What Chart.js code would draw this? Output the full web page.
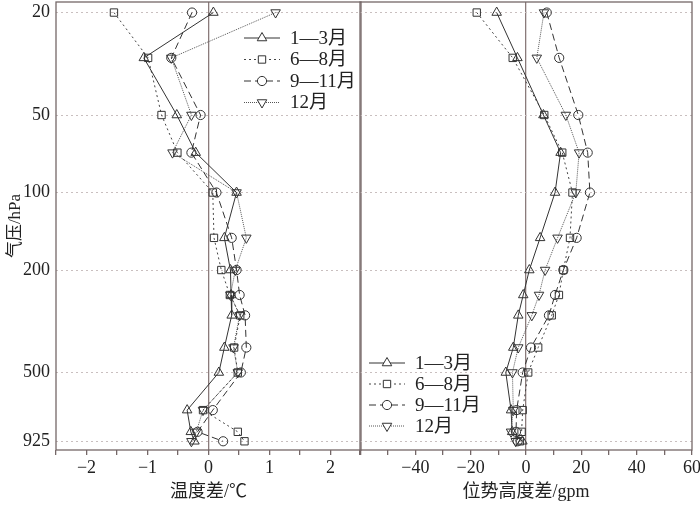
<!DOCTYPE html>
<html>
<head>
<meta charset="utf-8">
<script src="https://cdn.jsdelivr.net/npm/chart.js@4.4.1/dist/chart.umd.min.js"></script>
<style>
  body { margin: 0; background: #fff; width: 700px; height: 506px; position: relative; overflow: hidden; }
  .pane { position: absolute; top: 0; height: 506px; }
</style>
</head>
<body>
<div class="pane" style="left:0;width:363px"><canvas id="left" width="363" height="506"></canvas></div>
<div class="pane" style="left:359px;width:341px"><canvas id="right" width="341" height="506"></canvas></div>
<script>
// ── DATA ──────────────────────────────────────────
const levels = [20, 30, 50, 70, 100, 150, 200, 250, 300, 400, 500, 700, 850, 925];
const yTicks = [20, 50, 100, 200, 500, 925];
const seriesNames = ['1\u20143月', '6\u20148月', '9\u201411月', '12月'];

// temperature difference (°C)
const tempJFM = [0.08, -1.06, -0.52, -0.21, 0.46, 0.26, 0.36, 0.37, 0.38, 0.26, 0.17, -0.35, -0.29, -0.23];
const tempJJA = [-1.55, -0.99, -0.77, -0.51, 0.07, 0.09, 0.21, 0.35, 0.52, 0.42, 0.48, -0.09, 0.48, 0.59];
const tempSON = [-0.27, -0.61, -0.13, -0.28, 0.13, 0.38, 0.46, 0.51, 0.60, 0.62, 0.53, 0.07, -0.18, 0.24];
const tempDec = [1.10, -0.61, -0.28, -0.59, 0.46, 0.62, 0.44, 0.36, 0.51, 0.41, 0.48, -0.09, -0.20, -0.28];

// geopotential height difference (gpm)
const hgtJFM = [-10.6, -3.1, 6.3, 12.5, 10.5, 5.1, 1.2, -1.0, -2.8, -4.6, -7.3, -5.4, -5.0, -1.3];
const hgtJJA = [-17.8, -4.8, 6.6, 13.1, 16.8, 15.9, 13.5, 11.9, 9.3, 4.4, 0.8, -1.2, -1.6, -2.2];
const hgtSON = [7.5, 12.0, 18.9, 22.3, 23.1, 18.3, 13.5, 10.5, 8.3, 1.8, -1.2, -3.4, -3.6, -3.0];
const hgtDec = [6.5, 3.9, 14.4, 19.2, 18.0, 11.4, 6.9, 4.7, 2.1, -2.8, -4.9, -4.6, -5.4, -3.7];

// ── STYLE ─────────────────────────────────────────
const SERIF = "'Liberation Serif', 'Noto Sans CJK SC', serif";
const FRAME = '#756868';
const styles = [
  { dash: [],      point: 'triangle', rot: 0,   r: 5.5, color: '#333' },
  { dash: [2, 3],  point: 'rect',     rot: 0,   r: 5.2, color: '#444' },
  { dash: [7, 4],  point: 'circle',   rot: 0,   r: 4.6, color: '#333' },
  { dash: [1, 1],  point: 'triangle', rot: 180, r: 5.5, color: '#555' }
];

const fmt = v => (v < 0 ? '\u2212' + Math.abs(v) : String(v));

function makeDatasets(series) {
  return series.map((vals, i) => ({
    label: seriesNames[i],
    data: vals.map((v, k) => ({ x: v, y: levels[k] })),
    showLine: true,
    borderColor: styles[i].color,
    borderWidth: 1,
    borderDash: styles[i].dash,
    pointStyle: styles[i].point,
    rotation: styles[i].rot,
    pointRadius: styles[i].r,
    pointBorderColor: '#333',
    pointBackgroundColor: 'rgba(255,255,255,0)',
    pointBorderWidth: 1,
    tension: 0
  }));
}

// frame + custom legend inside plot
const framePlugin = {
  id: 'frame',
  afterDraw(chart) {
    const { ctx, chartArea: a } = chart;
    ctx.save();
    ctx.strokeStyle = FRAME;
    ctx.lineWidth = 1.3;
    ctx.strokeRect(a.left, a.top, a.right - a.left, a.bottom - a.top);
    ctx.restore();
  }
};

const legendPlugin = {
  id: 'inLegend',
  afterDraw(chart, args, opts) {
    const ctx = chart.ctx;
    ctx.save();
    chart.data.datasets.forEach((ds, i) => {
      const y = opts.y + i * opts.gap;
      ctx.strokeStyle = ds.borderColor;
      ctx.lineWidth = 1;
      ctx.setLineDash(ds.borderDash);
      ctx.beginPath();
      ctx.moveTo(opts.x, y);
      ctx.lineTo(opts.x + 36, y);
      ctx.stroke();
      ctx.setLineDash([]);
      ctx.fillStyle = '#fff';
      ctx.strokeStyle = '#333';
      Chart.helpers.drawPoint(ctx, {
        pointStyle: ds.pointStyle, rotation: ds.rotation,
        radius: ds.pointRadius, borderWidth: 1
      }, opts.x + 18, y);
      ctx.fillStyle = '#222';
      ctx.font = '19px ' + SERIF;
      ctx.textBaseline = 'middle';
      ctx.fillText(ds.label, opts.x + 46, y + 1);
    });
    ctx.restore();
  }
};

function makeOptions(cfg) {
  return {
    responsive: false,
    animation: false,
    layout: { padding: cfg.padding, autoPadding: false },
    plugins: {
      legend: { display: false },
      tooltip: { enabled: false },
      inLegend: cfg.legend
    },
    scales: {
      x: {
        type: 'linear',
        min: cfg.xMin, max: cfg.xMax,
        afterFit: s => { s.height = 56; s.paddingLeft = 0; s.paddingRight = 0; },
        afterBuildTicks: s => {
          const t = [];
          for (let v = cfg.xMin; v <= cfg.xMax + 1e-9; v += cfg.step) t.push({ value: v });
          s.ticks = t;
        },
        ticks: {
          autoSkip: false, maxRotation: 0, padding: 2,
          color: '#222', font: { family: SERIF, size: 18 },
          callback: cfg.xLabel
        },
        grid: {
          color: c => (c.tick && c.tick.value === 0 ? '#8a7b7b' : 'rgba(0,0,0,0)'),
          lineWidth: 1.3,
          tickColor: FRAME, tickLength: 5, drawTicks: true
        },
        border: { display: false },
        title: {
          display: true, text: cfg.xTitle, color: '#222',
          font: { family: SERIF, size: 18 }, padding: { top: 0, bottom: 3 }
        }
      },
      y: {
        type: 'logarithmic',
        reverse: true,
        min: 18.2, max: 1000,
        afterFit: s => { s.width = cfg.yWidth; s.paddingTop = 0; s.paddingBottom = 0; },
        afterBuildTicks: s => { s.ticks = yTicks.map(v => ({ value: v })); },
        ticks: {
          display: cfg.yLabels, padding: 6, color: '#222',
          font: { family: SERIF, size: 18 },
          callback: v => String(v)
        },
        grid: { color: '#c9bfbf', lineWidth: 1, drawTicks: false },
        border: { display: false, dash: [2, 3] },
        title: {
          display: cfg.yLabels, text: '气压/hPa', color: '#222',
          font: { family: SERIF, size: 17 }, padding: { top: 5, bottom: 0 }
        }
      }
    }
  };
}

// ── CHARTS ────────────────────────────────────────
new Chart(document.getElementById('left'), {
  type: 'scatter',
  data: { datasets: makeDatasets([tempJFM, tempJJA, tempSON, tempDec]) },
  options: makeOptions({
    padding: { left: 0, right: 2, top: 2, bottom: 0 },
    xMin: -2.5, xMax: 2.5, step: 0.5,
    xLabel: v => (Number.isInteger(v) ? fmt(v) : ''),
    xTitle: '温度差/℃',
    yWidth: 56, yLabels: true,
    legend: { x: 244, y: 38, gap: 21.5 }
  }),
  plugins: [framePlugin, legendPlugin]
});

new Chart(document.getElementById('right'), {
  type: 'scatter',
  data: { datasets: makeDatasets([hgtJFM, hgtJJA, hgtSON, hgtDec]) },
  options: makeOptions({
    padding: { left: 1, right: 8, top: 2, bottom: 0 },
    xMin: -60, xMax: 60, step: 10,
    xLabel: v => (v % 20 === 0 && v !== -60 ? fmt(v) : ''),
    xTitle: '位势高度差/gpm',
    yWidth: 0, yLabels: false,
    legend: { x: 10, y: 363, gap: 21 }
  }),
  plugins: [framePlugin, legendPlugin]
});
</script>
</body>
</html>
